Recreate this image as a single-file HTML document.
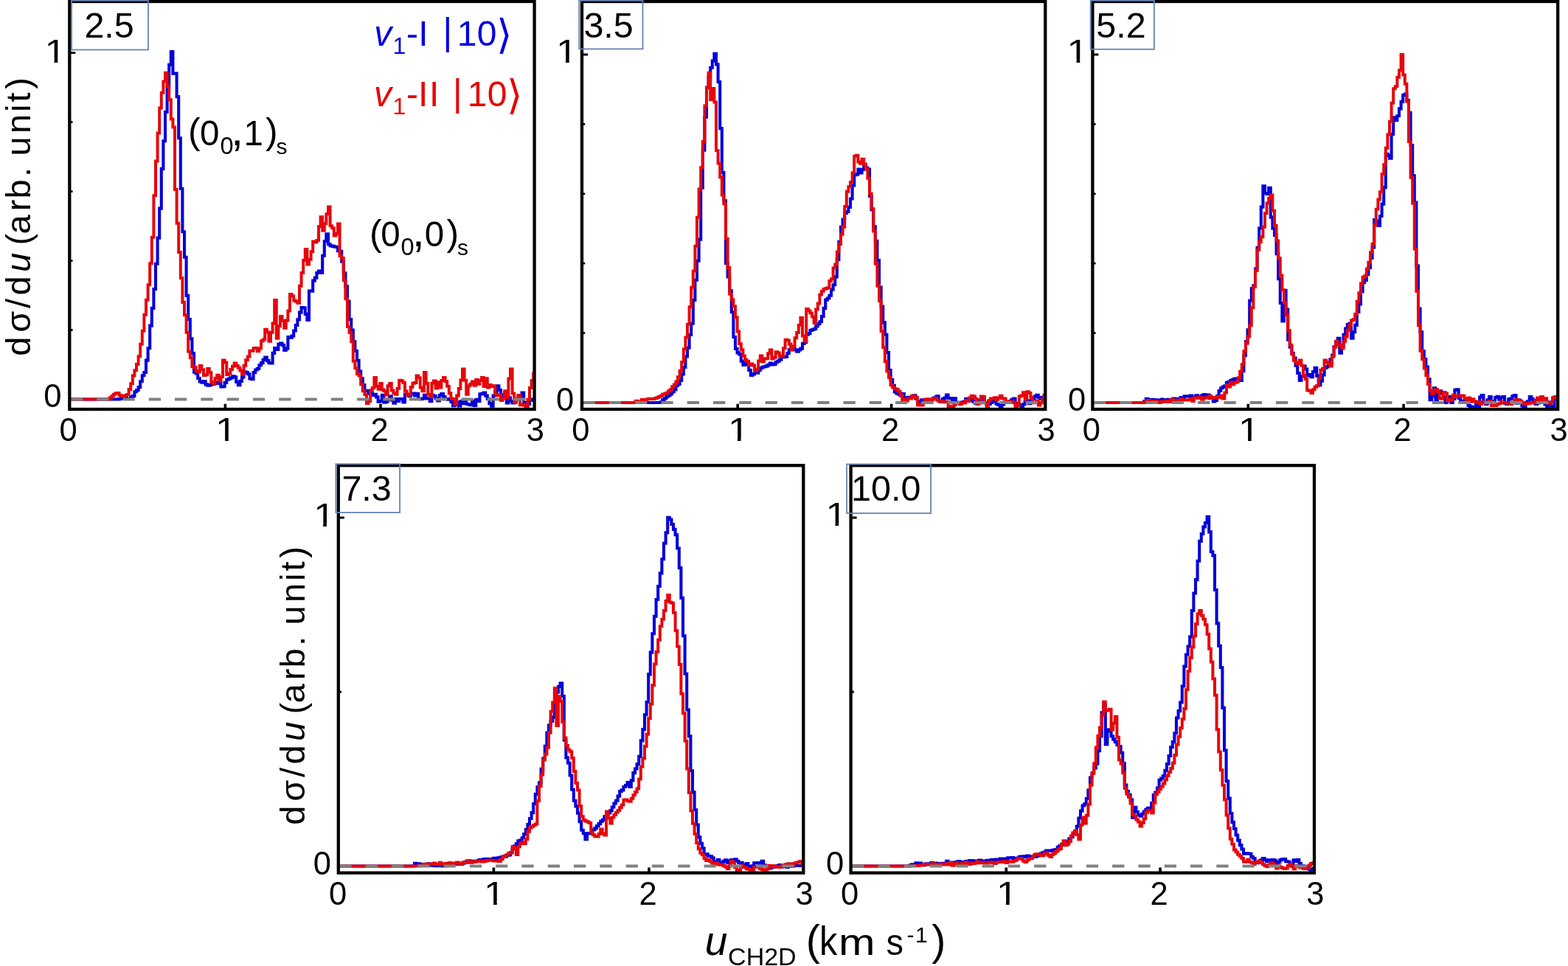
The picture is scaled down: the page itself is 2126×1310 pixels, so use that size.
<!DOCTYPE html><html><head><meta charset="utf-8"><style>html,body{margin:0;padding:0;background:#fff;overflow:hidden;}svg{display:block;}</style></head><body><svg width="2126" height="1310" viewBox="0 0 2126 1310">
<rect x="0" y="0" width="2126" height="1310" fill="#fff"/>
<defs><clipPath id="one"><rect x="-6" y="-40" width="36" height="35.5"/><rect x="10.85" y="-5" width="3.9" height="7"/></clipPath><clipPath id="c1"><rect x="94.3" y="2" width="630.3" height="553"/></clipPath><clipPath id="c2"><rect x="789" y="2" width="628.3" height="553"/></clipPath><clipPath id="c3"><rect x="1481.4" y="2" width="630.8" height="553"/></clipPath><clipPath id="c4"><rect x="458.8" y="631.2" width="630.5" height="552.5"/></clipPath><clipPath id="c5"><rect x="1153.6" y="631.2" width="628.4" height="552.5"/></clipPath></defs>
<g clip-path="url(#c1)" fill="none" stroke-linejoin="miter" stroke-miterlimit="2" stroke-linecap="butt">
<path d="M94,541.5H96.6V541.5H99.2V541.5H101.8V541.5H104.4V541.5H107V541.5H109.6V541.5H112.2V541.5H114.8V541.5H117.4V541.5H120V541.5H122.6V541.5H125.2V541.5H127.8V541.5H130.4V541.5H133V541.5H135.6V541.5H138.2V541.5H140.8V541.5H143.4V541.5H146V541.5H148.6V541.5H151.2V541.5H153.8V541.5H156.4V541.5H159V541.39H161.6V541.01H164.2V539.6H166.8V540.41H169.4V538.67H172V540.91H174.6V541.07H177.2V538.36H179.8V537.17H182.4V531.28H185V529.1H187.6V525.14H190.2V517.24H192.8V509.27H195.4V505.01H198V488.67H200.6V472.21H203.2V441.65H205.8V417.88H208.4V392.06H211V357.69H213.6V322.66H216.2V282.65H218.8V228.89H221.4V191.26H224V151.87H226.6V117.3H229.2V87.72H231.8V70H234.4V99.65H237V99.47H239.6V131.14H242.2V187.26H244.8V255.68H247.4V314.19H250V348.78H252.6V400.83H255.2V433.02H257.8V459.21H260.4V479.16H263V504.58H265.6V506.5H268.2V512.93H270.8V517.52H273.4V518.58H276V517.06H278.6V521.38H281.2V522.66H283.8V522.2H286.4V520.9H289V520.75H291.6V518.3H294.2V519.89H296.8V519.72H299.4V524.57H302V524.2H304.6V518.88H307.2V514.72H309.8V513.59H312.4V512.36H315V510.3H317.6V511.33H320.2V518.03H322.8V522.2H325.4V516.92H328V511.46H330.6V504.4H333.2V505.09H335.8V507.25H338.4V513.38H341V514.3H343.6V505.12H346.2V501.5H348.8V499.81H351.4V495.3H354V492.09H356.6V487.84H359.2V484.5H361.8V489.14H364.4V492.24H367V492.5H369.6V478.84H372.2V471.97H374.8V473.87H377.4V466.7H380V465.58H382.6V468.11H385.2V474.89H387.8V472.6H390.4V457.07H393V457.99H395.6V455.62H398.2V448.46H400.8V440.95H403.4V433.36H406V423.58H408.6V417H411.2V417.49H413.8V425.9H416.4V434H419V394.57H421.6V394.76H424.2V380.6H426.8V376.62H429.4V370.02H432V367.6H434.6V370H437.2V346.71H439.8V327.24H442.4V317.2H445V331.31H447.6V333.29H450.2V333.91H452.8V334.53H455.4V334.96H458V340.28H460.6V340.75H463.2V354.7H465.8V370.4H468.4V388.33H471V408.89H473.6V433.08H476.2V447.58H478.8V463.19H481.4V475.96H484V488.81H486.6V503.43H489.2V513.39H491.8V522H494.4V529.86H497V530.16H499.6V533.99H502.2V532.95H504.8V535.92H507.4V534.87H510V538.42H512.6V544.79H515.2V544H517.8V535.8H520.4V545.75H523V544.69H525.6V541.7H528.2V537.32H530.8V542.7H533.4V546.69H536V540.94H538.6V544H541.2V541.04H543.8V541.08H546.4V545.54H549V534.8H551.6V535.99H554.2V537.27H556.8V534.42H559.4V533.45H562V536.37H564.6V533.69H567.2V540.88H569.8V541.1H572.4V540.5H575V535.78H577.6V540.54H580.2V540.18H582.8V544.19H585.4V536.14H588V537H590.6V540.11H593.2V543.44H595.8V536.02H598.4V534.07H601V537.94H603.6V541.18H606.2V541.7H608.8V540.99H611.4V544.99H614V550.08H616.6V548.5H619.2V545.57H621.8V550.5H624.4V543.94H627V547.31H629.6V541.7H632.2V547.81H634.8V548.5H637.4V549.16H640V543.6H642.6V549.89H645.2V541.7H647.8V543.98H650.4V534.34H653V534H655.6V532.5H658.2V536.59H660.8V540.95H663.4V547.3H666V550.8H668.6V536.47H671.2V530.93H673.8V523.3H676.4V528.68H679V537.03H681.6V535.46H684.2V533.39H686.8V546.41H689.4V539.37H692V544H694.6V546.4H697.2V545.36H699.8V541.78H702.4V537.99H705V537.5H707.6V532.5H710.2V546.09H712.8V550.8H715.4V547.94H718V541.7H720.6V543.01H723.2V541.37H725.8V543.08H726" stroke="#0500d8" stroke-width="4.1"/>
<path d="M94,541.5H96.6V541.5H99.2V541.5H101.8V541.5H104.4V541.5H107V541.5H109.6V541.5H112.2V541.5H114.8V541.5H117.4V541.5H120V541.5H122.6V541.5H125.2V541.5H127.8V541.5H130.4V541.5H133V541.5H135.6V541.5H138.2V541.5H140.8V541.5H143.4V541.5H146V541.29H148.6V539.47H151.2V537.17H153.8V534.64H156.4V533.22H159V533H161.6V536.27H164.2V537H166.8V536.66H169.4V536.19H172V534.92H174.6V528.08H177.2V520.2H179.8V509.43H182.4V502.21H185V493.94H187.6V483.18H190.2V466.79H192.8V448.85H195.4V426.68H198V406.72H200.6V386.28H203.2V357.27H205.8V321.78H208.4V265.24H211V218.43H213.6V180.61H216.2V146.38H218.8V125.66H221.4V110.45H224V98.7H226.6V116.97H229.2V135.34H231.8V161.42H234.4V172.53H237V256.96H239.6V302.85H242.2V342.11H244.8V376.9H247.4V410.09H250V427.36H252.6V450.75H255.2V476.74H257.8V485.23H260.4V497.14H263V497.95H265.6V503.07H268.2V504.4H270.8V496H273.4V501.18H276V509H278.6V508.29H281.2V500H283.8V505.16H286.4V518H289V520.1H291.6V512.9H294.2V508.87H296.8V516.59H299.4V511.12H302V488.5H304.6V491.43H307.2V508H309.8V506.53H312.4V501.07H315V496.76H317.6V492.5H320.2V495.95H322.8V498.87H325.4V502.62H328V508H330.6V495.75H333.2V488.3H335.8V483.54H338.4V475.84H341V475.75H343.6V472.27H346.2V472.12H348.8V476.23H351.4V472.51H354V462.56H356.6V460.41H359.2V446.8H361.8V450.55H364.4V462.7H367V450.77H369.6V438.59H372.2V407H374.8V458.7H377.4V442.32H380V429H382.6V434.95H385.2V444.8H387.8V434.38H390.4V421.57H393V399H395.6V401.52H398.2V407.41H400.8V408.76H403.4V411H406V387.65H408.6V370.02H411.2V353.1H413.8V337.9H416.4V358.5H419V351.75H421.6V341.19H424.2V327.54H426.8V328.59H429.4V325.94H432V307.22H434.6V294.3H437.2V312.7H439.8V303.19H442.4V290.13H445V280.6H447.6V306.14H450.2V309.37H452.8V319.5H455.4V316.87H458V303.5H460.6V346.89H463.2V349.96H465.8V380.35H468.4V405.14H471V443.05H473.6V451.08H476.2V463.26H478.8V489.74H481.4V499.37H484V507.13H486.6V509.43H489.2V521.2H491.8V530.32H494.4V534.97H497V546.99H499.6V544H502.2V529.16H504.8V526.12H507.4V511.9H510V523.83H512.6V527.64H515.2V519.9H517.8V528.38H520.4V530.2H523V535.86H525.6V523.3H528.2V519.89H530.8V529.52H533.4V533.04H536V534.8H538.6V526.87H541.2V515.86H543.8V516.5H546.4V518.97H549V530.53H551.6V535.92H554.2V534.8H556.8V525.07H559.4V519.66H562V519.07H564.6V509.6H567.2V512.23H569.8V525.62H572.4V530.2H575V505H577.6V520.05H580.2V534.8H582.8V537.63H585.4V519.83H588V516.5H590.6V526.39H593.2V518.14H595.8V525.6H598.4V515.93H601V511.9H603.6V517.15H606.2V523.67H608.8V533.37H611.4V540.39H614V541.14H616.6V548.5H619.2V536.58H621.8V526.92H624.4V515.55H627V500.4H629.6V515.67H632.2V534.8H634.8V523.31H637.4V520.75H640V517.45H642.6V522.78H645.2V514.89H647.8V520.81H650.4V516.02H653V511.9H655.6V523.92H658.2V513.3H660.8V525.6H663.4V521.93H666V523.93H668.6V523.3H671.2V534.46H673.8V536.3H676.4V535.58H679V542.96H681.6V540.57H684.2V530.18H686.8V539.4H689.4V513.6H692V500.4H694.6V533.41H697.2V545.95H699.8V540.84H702.4V535.97H705V549.22H707.6V548.35H710.2V549.8H712.8V550.8H715.4V541.63H718V525.88H720.6V516.1H723.2V506.36H725.8V506.89H726" stroke="#e5060c" stroke-width="4.0"/>
<line x1="95.8" y1="541.5" x2="724.6" y2="541.5" stroke="#808080" stroke-width="4.1" stroke-dasharray="16.3 19"/>
</g>
<rect x="94.3" y="2" width="630.3" height="553" fill="none" stroke="#000" stroke-width="4.3"/>
<path d="M94.3,447.52h4.2 M94.3,353.54h4.2 M94.3,259.56h4.2 M94.3,165.58h4.2 M94.3,71.6h8" stroke="#000" stroke-width="2.8" fill="none"/>
<path d="M305.4,555v-7.2 M516,555v-7.2" stroke="#000" stroke-width="3.6" fill="none"/>
<rect x="97.1" y="0.8" width="103.9" height="66.7" fill="none" stroke="#6482b4" stroke-width="1.8"/>
<text x="114.4" y="51.2" font-family="'Liberation Sans', Arial, sans-serif" font-size="48.5" fill="#000">2.5</text>
<text x="80.6" y="598" font-family="'Liberation Sans', Arial, sans-serif" font-size="43.5">0</text>
<text transform="translate(292.1,598) scale(1.2,1)" font-family="'Liberation Sans', Arial, sans-serif" font-size="43.5" clip-path="url(#one)">1</text>
<text x="502.5" y="598" font-family="'Liberation Sans', Arial, sans-serif" font-size="43.5">2</text>
<text x="713.8" y="598" font-family="'Liberation Sans', Arial, sans-serif" font-size="43.5">3</text>
<text x="59.3" y="552.2" font-family="'Liberation Sans', Arial, sans-serif" font-size="43.5">0</text>
<text transform="translate(60.56,85) scale(1.2,1)" font-family="'Liberation Sans', Arial, sans-serif" font-size="43.5" clip-path="url(#one)">1</text>
<g clip-path="url(#c2)" fill="none" stroke-linejoin="miter" stroke-miterlimit="2" stroke-linecap="butt">
<path d="M789,546H791.6V546H794.2V546H796.8V546H799.4V546H802V546H804.6V546H807.2V546H809.8V546H812.4V546H815V546H817.6V546H820.2V546H822.8V546H825.4V546H828V546H830.6V546H833.2V546H835.8V546H838.4V546H841V546H843.6V546H846.2V546H848.8V546H851.4V546H854V546H856.6V546H859.2V546H861.8V546H864.4V546H867V546H869.6V546H872.2V546H874.8V546H877.4V546H880V546H882.6V546H885.2V546H887.8V546H890.4V546H893V546H895.6V545.32H898.2V542.24H900.8V540.13H903.4V537.77H906V536.29H908.6V534.15H911.2V531.25H913.8V528.34H916.4V522.84H919V520.93H921.6V515.92H924.2V507.47H926.8V497.93H929.4V483.5H932V471.76H934.6V454.01H937.2V438.78H939.8V407.01H942.4V379.78H945V353.78H947.6V324.62H950.2V254.64H952.8V203.77H955.4V158.68H958V118.57H960.6V104.34H963.2V91.8H965.8V82.51H968.4V72.9H971V87.42H973.6V111.12H976.2V174.13H978.8V233.83H981.4V272.4H984V356.96H986.6V375.38H989.2V394.38H991.8V423.26H994.4V457.07H997V472.83H999.6V478.41H1002.2V480.5H1004.8V489.78H1007.4V494.94H1010V489.95H1012.6V494.2H1015.2V501.96H1017.8V509.04H1020.4V507.36H1023V505.28H1025.6V505.8H1028.2V502.2H1030.8V499.23H1033.4V497.71H1036V497.21H1038.6V496.4H1041.2V494.81H1043.8V492.5H1046.4V494.42H1049V493.92H1051.6V491.22H1054.2V489.81H1056.8V487.8H1059.4V483.92H1062V484.29H1064.6V483.69H1067.2V479.05H1069.8V474.19H1072.4V470.6H1075V473.08H1077.6V474.52H1080.2V476.6H1082.8V474.37H1085.4V472.65H1088V466.02H1090.6V464.19H1093.2V453.65H1095.8V452.24H1098.4V447.99H1101V447.01H1103.6V446.02H1106.2V442.42H1108.8V439.29H1111.4V436.23H1114V428.94H1116.6V418.14H1119.2V406.6H1121.8V404.54H1124.4V400.77H1127V392.65H1129.6V386.28H1132.2V375.35H1134.8V352.1H1137.4V327.72H1140V307.82H1142.6V297.45H1145.2V289.15H1147.8V287.07H1150.4V280.97H1153V269.57H1155.6V251.55H1158.2V237.3H1160.8V236.4H1163.4V229.63H1166V234.51H1168.6V230.01H1171.2V223.7H1173.8V227.6H1176.4V229.63H1179V266.03H1181.6V284.5H1184.2V307.41H1186.8V326.88H1189.4V353.1H1192V389.5H1194.6V415.53H1197.2V437.34H1199.8V453.91H1202.4V477.96H1205V502.1H1207.6V514.97H1210.2V522.83H1212.8V531.48H1215.4V533.33H1218V534.69H1220.6V536.33H1223.2V534.06H1225.8V540.4H1228.4V539.47H1231V538.71H1233.6V538.9H1236.2V537.31H1238.8V536.34H1241.4V540.73H1244V545.43H1246.6V543.98H1249.2V542.36H1251.8V545.47H1254.4V542.91H1257V544.9H1259.6V542.52H1262.2V542.76H1264.8V539.96H1267.4V538.91H1270V537.4H1272.6V543.84H1275.2V544.9H1277.8V540.99H1280.4V539.49H1283V535.54H1285.6V540.28H1288.2V539.97H1290.8V546.25H1293.4V540.18H1296V545.87H1298.6V545.74H1301.2V546.4H1303.8V545.64H1306.4V544.79H1309V541.08H1311.6V540.72H1314.2V542.92H1316.8V541.9H1319.4V544.88H1322V546.89H1324.6V542.93H1327.2V545.8H1329.8V541.95H1332.4V543.87H1335V546.1H1337.6V549.13H1340.2V547.9H1342.8V545.92H1345.4V544.56H1348V543.4H1350.6V547.68H1353.2V548.96H1355.8V550.9H1358.4V548.37H1361V545.57H1363.6V545.51H1366.2V545.4H1368.8V543.99H1371.4V541.9H1374V540.47H1376.6V548.27H1379.2V547.05H1381.8V549.4H1384.4V551.43H1387V548.27H1389.6V545.36H1392.2V543.28H1394.8V547.12H1397.4V543.39H1400V540.91H1402.6V537.57H1405.2V535.9H1407.8V538.98H1410.4V541.06H1413V538.79H1415.6V543.61H1418.2V543.76H1419" stroke="#0500d8" stroke-width="4.1"/>
<path d="M789,546H791.6V546H794.2V546H796.8V546H799.4V546H802V546H804.6V546H807.2V546H809.8V546H812.4V546H815V546H817.6V546H820.2V546H822.8V546H825.4V546H828V546H830.6V546H833.2V546H835.8V546H838.4V546H841V546H843.6V546H846.2V546H848.8V546H851.4V546H854V546H856.6V546H859.2V545.82H861.8V543.79H864.4V544.69H867V544.78H869.6V542.05H872.2V542.15H874.8V542.2H877.4V540.97H880V540.68H882.6V540.72H885.2V541.08H887.8V540.01H890.4V539.29H893V538.06H895.6V536.85H898.2V534.69H900.8V533.99H903.4V532.63H906V530.37H908.6V528.21H911.2V524.21H913.8V521.39H916.4V517.62H919V511.26H921.6V502.88H924.2V490.96H926.8V473.51H929.4V457.48H932V439.66H934.6V416.37H937.2V389.76H939.8V367.44H942.4V333.67H945V294.63H947.6V256.41H950.2V227.21H952.8V192.01H955.4V143.43H958V118.98H960.6V98.7H963.2V135H965.8V120H968.4V138.55H971V204.29H973.6V221.52H976.2V240.32H978.8V264.38H981.4V276.55H984V323.87H986.6V363H989.2V398.64H991.8V406.14H994.4V415.51H997V430.31H999.6V449.53H1002.2V466.18H1004.8V474.17H1007.4V482.57H1010V488.04H1012.6V489.89H1015.2V495.11H1017.8V493.47H1020.4V495.51H1023V502.7H1025.6V500.4H1028.2V489.39H1030.8V482.5H1033.4V490.5H1036V486.5H1038.6V486.15H1041.2V479.2H1043.8V474.6H1046.4V486.5H1049V484.66H1051.6V477.32H1054.2V478.6H1056.8V483.19H1059.4V482.5H1062V472.13H1064.6V460.7H1067.2V461.45H1069.8V466.54H1072.4V474.6H1075V469.55H1077.6V458.33H1080.2V450.94H1082.8V441.08H1085.4V431H1088V455.6H1090.6V462.7H1093.2V419H1095.8V421.43H1098.4V424.43H1101V429.44H1103.6V438H1106.2V419.6H1108.8V411.55H1111.4V399.48H1114V395.06H1116.6V392.11H1119.2V391.32H1121.8V390.34H1124.4V380.88H1127V378.31H1129.6V363.45H1132.2V358.43H1134.8V341.52H1137.4V331.32H1140V317.87H1142.6V307.8H1145.2V280.09H1147.8V259.86H1150.4V253.22H1153V246.98H1155.6V234.2H1158.2V211.8H1160.8V210.71H1163.4V219.58H1166V221.7H1168.6V215.8H1171.2V222.52H1173.8V228.96H1176.4V241.66H1179V262.4H1181.6V283H1184.2V313.4H1186.8V357.86H1189.4V387.78H1192V408.08H1194.6V449.13H1197.2V471.16H1199.8V490.25H1202.4V503.61H1205V512.03H1207.6V522.3H1210.2V525.58H1212.8V527.27H1215.4V528.28H1218V531.04H1220.6V535.7H1223.2V543.26H1225.8V541.66H1228.4V543.4H1231V540.46H1233.6V540.55H1236.2V536.79H1238.8V538.17H1241.4V538.9H1244V549.24H1246.6V549.4H1249.2V549.19H1251.8V546.12H1254.4V541.39H1257V541.37H1259.6V541.84H1262.2V541.93H1264.8V540.84H1267.4V539.89H1270V542.45H1272.6V544.29H1275.2V544.23H1277.8V545.15H1280.4V545.06H1283V544.97H1285.6V550.9H1288.2V551.46H1290.8V552.34H1293.4V548.9H1296V546.56H1298.6V545.99H1301.2V548.24H1303.8V546.54H1306.4V546.48H1309V543.01H1311.6V544.36H1314.2V539.41H1316.8V536.67H1319.4V537.4H1322V540.82H1324.6V547.9H1327.2V546.53H1329.8V537.4H1332.4V538H1335V546.06H1337.6V550.9H1340.2V543.18H1342.8V540.4H1345.4V541H1348V539.31H1350.6V541.9H1353.2V539.43H1355.8V536.67H1358.4V540.33H1361V540.4H1363.6V546.12H1366.2V544.4H1368.8V544.86H1371.4V544.96H1374V545.93H1376.6V552.6H1379.2V549.4H1381.8V537.39H1384.4V536.59H1387V532.24H1389.6V541.17H1392.2V531.32H1394.8V532.9H1397.4V539.08H1400V546.23H1402.6V545.69H1405.2V543.38H1407.8V549.4H1410.4V546.3H1413V541.85H1415.6V535.42H1418.2V541.01H1419" stroke="#e5060c" stroke-width="4.0"/>
<line x1="790.5" y1="546" x2="1417.3" y2="546" stroke="#808080" stroke-width="4.1" stroke-dasharray="16.3 19"/>
</g>
<rect x="789" y="2" width="628.3" height="553" fill="none" stroke="#000" stroke-width="4.3"/>
<path d="M789,451.6h4.2 M789,357.2h4.2 M789,262.8h4.2 M789,168.4h4.2 M789,74h8" stroke="#000" stroke-width="2.8" fill="none"/>
<path d="M1000.2,555v-7.2 M1208.6,555v-7.2" stroke="#000" stroke-width="3.6" fill="none"/>
<rect x="785.3" y="0.8" width="86.2" height="65.6" fill="none" stroke="#6482b4" stroke-width="1.8"/>
<text x="791.4" y="50.9" font-family="'Liberation Sans', Arial, sans-serif" font-size="48.5" fill="#000">3.5</text>
<text x="775.3" y="598" font-family="'Liberation Sans', Arial, sans-serif" font-size="43.5">0</text>
<text transform="translate(986.9,598) scale(1.2,1)" font-family="'Liberation Sans', Arial, sans-serif" font-size="43.5" clip-path="url(#one)">1</text>
<text x="1195.1" y="598" font-family="'Liberation Sans', Arial, sans-serif" font-size="43.5">2</text>
<text x="1406.5" y="598" font-family="'Liberation Sans', Arial, sans-serif" font-size="43.5">3</text>
<text x="754" y="557" font-family="'Liberation Sans', Arial, sans-serif" font-size="43.5">0</text>
<text transform="translate(754.06,84.7) scale(1.2,1)" font-family="'Liberation Sans', Arial, sans-serif" font-size="43.5" clip-path="url(#one)">1</text>
<g clip-path="url(#c3)" fill="none" stroke-linejoin="miter" stroke-miterlimit="2" stroke-linecap="butt">
<path d="M1481,546H1483.6V546H1486.2V546H1488.8V546H1491.4V546H1494V546H1496.6V546H1499.2V546H1501.8V546H1504.4V546H1507V546H1509.6V546H1512.2V546H1514.8V546H1517.4V546H1520V546H1522.6V546H1525.2V546H1527.8V546H1530.4V546H1533V546H1535.6V546H1538.2V546H1540.8V546H1543.4V546H1546V546H1548.6V546H1551.2V544.38H1553.8V540.79H1556.4V542.53H1559V541.72H1561.6V541.88H1564.2V543.38H1566.8V542.27H1569.4V543.78H1572V542.71H1574.6V541.52H1577.2V542.88H1579.8V544.78H1582.4V541.71H1585V544.64H1587.6V543.39H1590.2V540.59H1592.8V543.04H1595.4V540.76H1598V543.97H1600.6V539.07H1603.2V541.06H1605.8V537.4H1608.4V537.43H1611V537.46H1613.6V536.52H1616.2V538.96H1618.8V538.34H1621.4V536.28H1624V539.37H1626.6V538.08H1629.2V536.26H1631.8V535.04H1634.4V535.6H1637V535.52H1639.6V539.85H1642.2V539.13H1644.8V544.35H1647.4V542.9H1650V537.09H1652.6V529.97H1655.2V526.24H1657.8V524.65H1660.4V523.35H1663V518.92H1665.6V517.92H1668.2V515.98H1670.8V514.92H1673.4V513.6H1676V515.86H1678.6V514.12H1681.2V516H1683.8V503.11H1686.4V482.22H1689V463.37H1691.6V447.29H1694.2V407.82H1696.8V391.21H1699.4V387.21H1702V364.54H1704.6V335.87H1707.2V309.55H1709.8V280.61H1712.4V252.2H1715V262H1717.6V263.32H1720.2V254.7H1722.8V294.61H1725.4V309.68H1728V319.11H1730.6V344.1H1733.2V378.14H1735.8V411.01H1738.4V435.4H1741V393.9H1743.6V419.57H1746.2V460.65H1748.8V470.59H1751.4V478.94H1754V485.6H1756.6V495.76H1759.2V506.03H1761.8V516H1764.4V510H1767V496.5H1769.6V500.54H1772.2V509.51H1774.8V508.1H1777.4V511.1H1780V504.06H1782.6V498.9H1785.2V509.61H1787.8V522.2H1790.4V516.8H1793V508.33H1795.6V499.06H1798.2V497.39H1800.8V492.1H1803.4V487.37H1806V481.85H1808.6V470.34H1811.2V463.17H1813.8V458.7H1816.4V478.6H1819V469.83H1821.6V453.72H1824.2V445.59H1826.8V440.09H1829.4V438.9H1832V458.7H1834.6V450.3H1837.2V440.85H1839.8V423.06H1842.4V412.38H1845V395.37H1847.6V383.23H1850.2V380.01H1852.8V372.19H1855.4V363H1858V350.06H1860.6V335.4H1863.2V298.1H1865.8V299.85H1868.4V306H1871V293.01H1873.6V276.59H1876.2V254.09H1878.8V208.8H1881.4V210.88H1884V214.8H1886.6V181.91H1889.2V159.2H1891.8V163.2H1894.4V157.27H1897V147.4H1899.6V137.88H1902.2V129H1904.8V127.5H1907.4V136.08H1910V152.83H1912.6V197.01H1915.2V238.25H1917.8V274.57H1920.4V360.46H1923V418.63H1925.6V450.33H1928.2V476.26H1930.8V487.02H1933.4V497.46H1936V514.25H1938.6V542.1H1941.2V537.31H1943.8V526.2H1946.4V542.1H1949V532.84H1951.6V530.2H1954.2V533.97H1956.8V538.34H1959.4V546H1962V538.02H1964.6V538.1H1967.2V546H1969.8V541.04H1972.4V528.74H1975V528.2H1977.6V539.99H1980.2V543.87H1982.8V544.01H1985.4V545.66H1988V545.1H1990.6V550.07H1993.2V551.51H1995.8V552H1998.4V553.01H2001V548.01H2003.6V551.43H2006.2V538.57H2008.8V536.1H2011.4V545.88H2014V548H2016.6V542.24H2019.2V538.1H2021.8V544.25H2024.4V546H2027V538.99H2029.6V537.72H2032.2V541.66H2034.8V539.18H2037.4V538.1H2040V546.86H2042.6V548H2045.2V541.38H2047.8V540.67H2050.4V537.31H2053V536.1H2055.6V546.58H2058.2V542.49H2060.8V546.3H2063.4V550.48H2066V552H2068.6V545.84H2071.2V544.24H2073.8V538.1H2076.4V541.38H2079V545.69H2081.6V548H2084.2V546.46H2086.8V545.41H2089.4V544H2092V545.72H2094.6V548.42H2097.2V552H2099.8V545.21H2102.4V550.78H2105V551.85H2107.6V540.1H2110.2V540.96H2112.8V541.95H2114" stroke="#0500d8" stroke-width="4.1"/>
<path d="M1481,546H1483.6V546H1486.2V546H1488.8V546H1491.4V546H1494V546H1496.6V546H1499.2V546H1501.8V546H1504.4V546H1507V546H1509.6V546H1512.2V546H1514.8V546H1517.4V546H1520V546H1522.6V546H1525.2V546H1527.8V546H1530.4V546H1533V546H1535.6V546H1538.2V546H1540.8V546H1543.4V546H1546V546H1548.6V546H1551.2V545.47H1553.8V544.04H1556.4V542.99H1559V544.25H1561.6V543.94H1564.2V544.24H1566.8V543.9H1569.4V545.98H1572V545.69H1574.6V544.53H1577.2V544.97H1579.8V544.57H1582.4V543.95H1585V544.65H1587.6V541.7H1590.2V543.39H1592.8V542.76H1595.4V542.65H1598V543.38H1600.6V541.14H1603.2V542.45H1605.8V542.53H1608.4V542.6H1611V542.3H1613.6V540.9H1616.2V543.98H1618.8V539.29H1621.4V539.62H1624V539.64H1626.6V539.05H1629.2V541.74H1631.8V539.7H1634.4V539.17H1637V538.45H1639.6V537.1H1642.2V539.91H1644.8V538.88H1647.4V538.9H1650V538H1652.6V539.19H1655.2V536.49H1657.8V540.4H1660.4V532.58H1663V521.96H1665.6V524.44H1668.2V518.54H1670.8V521.16H1673.4V518.81H1676V518.03H1678.6V512.31H1681.2V503.84H1683.8V494.35H1686.4V476.16H1689V465.79H1691.6V456.43H1694.2V441.13H1696.8V417.26H1699.4V389.08H1702V366.99H1704.6V338.88H1707.2V327.89H1709.8V321.13H1712.4V307.82H1715V289.16H1717.6V275.47H1720.2V268.87H1722.8V264.4H1725.4V285.69H1728V305.87H1730.6V326.59H1733.2V350.13H1735.8V373.59H1738.4V393.27H1741V410.4H1743.6V427.33H1746.2V448.24H1748.8V467.78H1751.4V480.39H1754V488.72H1756.6V491.87H1759.2V493.04H1761.8V488.6H1764.4V495.81H1767V509.06H1769.6V514.05H1772.2V529.15H1774.8V530H1777.4V533.1H1780V528.37H1782.6V524.79H1785.2V522.89H1787.8V513.3H1790.4V501.79H1793V500.12H1795.6V488.5H1798.2V491.08H1800.8V492.99H1803.4V496.4H1806V483.46H1808.6V470.4H1811.2V462.7H1813.8V467.32H1816.4V468.05H1819V472.6H1821.6V463.26H1824.2V456.55H1826.8V447.7H1829.4V440.76H1832V434.6H1834.6V433.31H1837.2V425.99H1839.8V408.84H1842.4V397.29H1845V384.48H1847.6V375.8H1850.2V374.37H1852.8V364.75H1855.4V355.85H1858V342.36H1860.6V330.8H1863.2V305.17H1865.8V283.63H1868.4V270.57H1871V260.24H1873.6V235.96H1876.2V223.17H1878.8V200.78H1881.4V182.45H1884V164.66H1886.6V139.71H1889.2V120.16H1891.8V117.34H1894.4V104.86H1897V95.26H1899.6V73.9H1902.2V101.42H1904.8V113.82H1907.4V137.73H1910V191.99H1912.6V240.71H1915.2V275.73H1917.8V337.4H1920.4V394.65H1923V441.36H1925.6V475.8H1928.2V487.31H1930.8V499.52H1933.4V509.1H1936V521.09H1938.6V529.82H1941.2V534.1H1943.8V529.15H1946.4V528.2H1949V530.97H1951.6V540.1H1954.2V540.68H1956.8V532.1H1959.4V533.33H1962V543.44H1964.6V542.1H1967.2V542.51H1969.8V535.68H1972.4V538.1H1975V537.54H1977.6V536.72H1980.2V536.44H1982.8V536.81H1985.4V540.54H1988V545.36H1990.6V539.39H1993.2V544.84H1995.8V541.23H1998.4V544.31H2001V545.01H2003.6V545.33H2006.2V547.91H2008.8V545.34H2011.4V546.43H2014V545.41H2016.6V545.94H2019.2V544.3H2021.8V549.94H2024.4V547.54H2027V550H2029.6V547.95H2032.2V547.22H2034.8V545.01H2037.4V546H2040V546.09H2042.6V546.82H2045.2V546.7H2047.8V548H2050.4V545.76H2053V542.52H2055.6V542.1H2058.2V544.79H2060.8V543.71H2063.4V546.15H2066V548H2068.6V547.53H2071.2V547.31H2073.8V546.53H2076.4V546H2079V546.42H2081.6V542.69H2084.2V539.42H2086.8V542.79H2089.4V538.1H2092V545.92H2094.6V540.15H2097.2V546H2099.8V547.02H2102.4V545.7H2105V539.16H2107.6V538.1H2110.2V540.63H2112.8V535.1H2114" stroke="#e5060c" stroke-width="4.0"/>
<line x1="1482.9" y1="546" x2="2112.2" y2="546" stroke="#808080" stroke-width="4.1" stroke-dasharray="16.3 19"/>
</g>
<rect x="1481.4" y="2" width="630.8" height="553" fill="none" stroke="#000" stroke-width="4.3"/>
<path d="M1481.4,451.6h4.2 M1481.4,357.2h4.2 M1481.4,262.8h4.2 M1481.4,168.4h4.2 M1481.4,74h8" stroke="#000" stroke-width="2.8" fill="none"/>
<path d="M1692.3,555v-7.2 M1903.1,555v-7.2" stroke="#000" stroke-width="3.6" fill="none"/>
<rect x="1478.7" y="0.8" width="86.2" height="66" fill="none" stroke="#6482b4" stroke-width="1.8"/>
<text x="1486.2" y="50.9" font-family="'Liberation Sans', Arial, sans-serif" font-size="48.5" fill="#000">5.2</text>
<text x="1467.7" y="598" font-family="'Liberation Sans', Arial, sans-serif" font-size="43.5">0</text>
<text transform="translate(1679,598) scale(1.2,1)" font-family="'Liberation Sans', Arial, sans-serif" font-size="43.5" clip-path="url(#one)">1</text>
<text x="1889.6" y="598" font-family="'Liberation Sans', Arial, sans-serif" font-size="43.5">2</text>
<text x="2101.4" y="598" font-family="'Liberation Sans', Arial, sans-serif" font-size="43.5">3</text>
<text x="1447.9" y="557.3" font-family="'Liberation Sans', Arial, sans-serif" font-size="43.5">0</text>
<text transform="translate(1446.56,84.7) scale(1.2,1)" font-family="'Liberation Sans', Arial, sans-serif" font-size="43.5" clip-path="url(#one)">1</text>
<g clip-path="url(#c4)" fill="none" stroke-linejoin="miter" stroke-miterlimit="2" stroke-linecap="butt">
<path d="M458,1174.5H460.6V1174.5H463.2V1174.5H465.8V1174.5H468.4V1174.5H471V1174.5H473.6V1174.5H476.2V1174.5H478.8V1174.5H481.4V1174.5H484V1174.5H486.6V1174.5H489.2V1174.5H491.8V1174.5H494.4V1174.5H497V1174.5H499.6V1174.5H502.2V1174.5H504.8V1174.5H507.4V1174.5H510V1174.5H512.6V1174.5H515.2V1174.5H517.8V1174.5H520.4V1174.5H523V1174.5H525.6V1174.5H528.2V1174.5H530.8V1174.5H533.4V1174.5H536V1174.5H538.6V1174.5H541.2V1174.5H543.8V1174.5H546.4V1174.5H549V1174.5H551.6V1174.5H554.2V1174.5H556.8V1174.5H559.4V1174.23H562V1170.91H564.6V1173.41H567.2V1171.2H569.8V1172.52H572.4V1172.2H575V1172.17H577.6V1173.16H580.2V1171.36H582.8V1173.64H585.4V1173.23H588V1174.07H590.6V1174.15H593.2V1173.52H595.8V1174.02H598.4V1174.28H601V1174.5H603.6V1174H606.2V1173.13H608.8V1172.53H611.4V1172.75H614V1171.75H616.6V1171.38H619.2V1171.96H621.8V1171.5H624.4V1171.88H627V1170.67H629.6V1169.17H632.2V1167.86H634.8V1168.6H637.4V1169.39H640V1167.77H642.6V1168.17H645.2V1167.93H647.8V1166.75H650.4V1165.72H653V1166.2H655.6V1165.17H658.2V1164.75H660.8V1165.09H663.4V1165.37H666V1165.59H668.6V1163.92H671.2V1164.97H673.8V1163.43H676.4V1162.96H679V1162.39H681.6V1161.57H684.2V1161.62H686.8V1159.94H689.4V1159.33H692V1156.4H694.6V1151.26H697.2V1147.39H699.8V1144.04H702.4V1140.34H705V1139.43H707.6V1136.18H710.2V1131.17H712.8V1124.86H715.4V1118.17H718V1109.93H720.6V1102.08H723.2V1090.07H725.8V1077.06H728.4V1067.19H731V1061.36H733.6V1042.89H736.2V1028.67H738.8V1011.83H741.4V993.44H744V983.43H746.6V978.05H749.2V972.66H751.8V955.75H754.4V938.69H757V931.14H759.6V926.6H762.2V944.07H764.8V1003.82H767.4V1027.43H770V1034.82H772.6V1051.43H775.2V1070.69H777.8V1085.73H780.4V1093.37H783V1102.81H785.6V1114.25H788.2V1125.7H790.8V1130.23H793.4V1138.3H796V1130.02H798.6V1130.11H801.2V1129.78H803.8V1125.29H806.4V1123.1H809V1120.08H811.6V1117.14H814.2V1113.9H816.8V1111.7H819.4V1107.36H822V1105.05H824.6V1102.33H827.2V1099.38H829.8V1094.49H832.4V1089.52H835V1085.8H837.6V1079.61H840.2V1073.04H842.8V1071.33H845.4V1066.94H848V1065.07H850.6V1061H853.2V1066.9H855.8V1058.37H858.4V1048.12H861V1042.52H863.6V1036.21H866.2V1025.87H868.8V1004.34H871.4V989.15H874V969.19H876.6V952.06H879.2V914.33H881.8V884.65H884.4V859.19H887V835.71H889.6V812.93H892.2V795.04H894.8V777.33H897.4V758.18H900V736.68H902.6V722.4H905.2V701.9H907.8V704.43H910.4V711H913V717.89H915.6V725.24H918.2V743.56H920.8V770.16H923.4V810.9H926V862.19H928.6V913.75H931.2V962.43H933.8V998.36H936.4V1045.26H939V1074.37H941.6V1098.32H944.2V1118.49H946.8V1135.4H949.4V1143.82H952V1150.24H954.6V1159.21H957.2V1158.4H959.8V1161.1H962.4V1161.24H965V1163.28H967.6V1170.25H970.2V1168.66H972.8V1165.87H975.4V1169.88H978V1170.1H980.6V1167.83H983.2V1166.26H985.8V1170.06H988.4V1167.62H991V1166.12H993.6V1166.1H996.2V1165.28H998.8V1167.68H1001.4V1169.97H1004V1169.72H1006.6V1172.55H1009.2V1172.98H1011.8V1171H1014.4V1174.91H1017V1176H1019.6V1174.23H1022.2V1170.37H1024.8V1170.35H1027.4V1170.1H1030V1170.74H1032.6V1167.89H1035.2V1173.4H1037.8V1174.26H1040.4V1174.79H1043V1177.47H1045.6V1176H1048.2V1175.58H1050.8V1174.71H1053.4V1173.95H1056V1173.1H1058.6V1175.81H1061.2V1174.54H1063.8V1175.09H1066.4V1176H1069V1172.16H1071.6V1174.92H1074.2V1174.4H1076.8V1174H1079.4V1174H1082V1174H1084.6V1174H1087.2V1174H1089.8V1174H1091" stroke="#0500d8" stroke-width="4.1"/>
<path d="M458,1174.5H460.6V1174.5H463.2V1174.5H465.8V1174.5H468.4V1174.5H471V1174.5H473.6V1174.5H476.2V1174.5H478.8V1174.5H481.4V1174.5H484V1174.5H486.6V1174.5H489.2V1174.5H491.8V1174.5H494.4V1174.5H497V1174.5H499.6V1174.5H502.2V1174.5H504.8V1174.5H507.4V1174.5H510V1174.5H512.6V1174.5H515.2V1174.5H517.8V1174.5H520.4V1174.5H523V1174.5H525.6V1174.5H528.2V1174.5H530.8V1174.5H533.4V1174.5H536V1174.5H538.6V1174.5H541.2V1174.5H543.8V1174.5H546.4V1174.5H549V1174.5H551.6V1174.5H554.2V1174.5H556.8V1174.5H559.4V1174.5H562V1174.5H564.6V1174.5H567.2V1174.17H569.8V1174.1H572.4V1172.48H575V1171.7H577.6V1171.47H580.2V1171.68H582.8V1172.3H585.4V1171.38H588V1170.5H590.6V1171.91H593.2V1172.22H595.8V1169.77H598.4V1172.28H601V1171.71H603.6V1170.7H606.2V1172.22H608.8V1169.94H611.4V1172.47H614V1170.65H616.6V1170.58H619.2V1169.44H621.8V1170.91H624.4V1171.7H627V1169.39H629.6V1168.92H632.2V1169.77H634.8V1167.09H637.4V1169.39H640V1169.23H642.6V1168.68H645.2V1167.67H647.8V1168.25H650.4V1167.4H653V1168.53H655.6V1167.9H658.2V1167.44H660.8V1166.5H663.4V1166.82H666V1166.8H668.6V1167.53H671.2V1167.58H673.8V1167.73H676.4V1167.9H679V1165.19H681.6V1161.89H684.2V1160.48H686.8V1158.96H689.4V1156.71H692V1156.37H694.6V1148H697.2V1150.19H699.8V1159H702.4V1148.2H705V1143.99H707.6V1142.35H710.2V1144.03H712.8V1138.12H715.4V1127.85H718V1122.38H720.6V1120.69H723.2V1119.12H725.8V1117.42H728.4V1085.96H731V1066.31H733.6V1050.51H736.2V1030.46H738.8V1022.78H741.4V1013.73H744V993.64H746.6V964.65H749.2V952.48H751.8V933.2H754.4V984.1H757V944.3H759.6V950.91H762.2V979.04H764.8V1000.5H767.4V1011.11H770V1016.72H772.6V1019.27H775.2V1027.99H777.8V1046.05H780.4V1062.09H783V1071.62H785.6V1092.95H788.2V1107.35H790.8V1111.95H793.4V1113.51H796V1114.6H798.6V1115.95H801.2V1128.43H803.8V1132.3H806.4V1134.24H809V1134.4H811.6V1130.72H814.2V1124.4H816.8V1130.38H819.4V1132.4H822V1100.6H824.6V1109.54H827.2V1116.5H829.8V1108.46H832.4V1105.01H835V1101.72H837.6V1099.1H840.2V1094.9H842.8V1091.53H845.4V1084.8H848V1084.59H850.6V1086.23H853.2V1086.7H855.8V1082.76H858.4V1078.13H861V1073.98H863.6V1069.45H866.2V1056.44H868.8V1039.73H871.4V1028.44H874V1012.04H876.6V995.82H879.2V974.2H881.8V954.84H884.4V929.36H887V900.42H889.6V883.93H892.2V867.63H894.8V849.28H897.4V839.71H900V828.04H902.6V815.07H905.2V807.1H907.8V816.64H910.4V817.65H913V830.76H915.6V855.31H918.2V876.64H920.8V900.94H923.4V940.64H926V967.25H928.6V1004.68H931.2V1042.57H933.8V1074.91H936.4V1099.5H939V1116.76H941.6V1130.98H944.2V1142.92H946.8V1151.3H949.4V1156.72H952V1159.37H954.6V1164.31H957.2V1166.97H959.8V1165.96H962.4V1168.37H965V1170.48H967.6V1172.07H970.2V1170.24H972.8V1172.2H975.4V1172.74H978V1172.73H980.6V1174.25H983.2V1175.42H985.8V1178H988.4V1174.19H991V1168.1H993.6V1169.79H996.2V1176.16H998.8V1180H1001.4V1180.38H1004V1173.61H1006.6V1176H1009.2V1176.15H1011.8V1178.28H1014.4V1178.74H1017V1180H1019.6V1180.36H1022.2V1175.79H1024.8V1175.18H1027.4V1176H1030V1178.08H1032.6V1178.93H1035.2V1180H1037.8V1179.58H1040.4V1173.8H1043V1176H1045.6V1174H1048.2V1174.36H1050.8V1174.89H1053.4V1175.82H1056V1176H1058.6V1174.35H1061.2V1174.56H1063.8V1172.57H1066.4V1171.72H1069V1171.29H1071.6V1171.41H1074.2V1172.89H1076.8V1170.49H1079.4V1169.64H1082V1169.02H1084.6V1168.1H1087.2V1171.13H1089.8V1170.59H1091" stroke="#e5060c" stroke-width="4.0"/>
<line x1="460.3" y1="1174.5" x2="1089.3" y2="1174.5" stroke="#808080" stroke-width="4.1" stroke-dasharray="16.3 19"/>
</g>
<rect x="458.8" y="631.2" width="630.5" height="552.5" fill="none" stroke="#000" stroke-width="4.3"/>
<path d="M458.8,938.25h4.2 M458.8,702h8" stroke="#000" stroke-width="2.8" fill="none"/>
<path d="M669.4,1183.7v-7.2 M880,1183.7v-7.2" stroke="#000" stroke-width="3.6" fill="none"/>
<rect x="455.4" y="629.2" width="86.7" height="65.9" fill="none" stroke="#6482b4" stroke-width="1.8"/>
<text x="463.4" y="679.4" font-family="'Liberation Sans', Arial, sans-serif" font-size="48.5" fill="#000">7.3</text>
<text x="446" y="1226.7" font-family="'Liberation Sans', Arial, sans-serif" font-size="43.5">0</text>
<text transform="translate(656.1,1226.7) scale(1.2,1)" font-family="'Liberation Sans', Arial, sans-serif" font-size="43.5" clip-path="url(#one)">1</text>
<text x="866.5" y="1226.7" font-family="'Liberation Sans', Arial, sans-serif" font-size="43.5">2</text>
<text x="1078.5" y="1226.7" font-family="'Liberation Sans', Arial, sans-serif" font-size="43.5">3</text>
<text x="424.8" y="1185.6" font-family="'Liberation Sans', Arial, sans-serif" font-size="43.5">0</text>
<text transform="translate(425.16,713.5) scale(1.2,1)" font-family="'Liberation Sans', Arial, sans-serif" font-size="43.5" clip-path="url(#one)">1</text>
<g clip-path="url(#c5)" fill="none" stroke-linejoin="miter" stroke-miterlimit="2" stroke-linecap="butt">
<path d="M1153,1174.5H1155.6V1174.5H1158.2V1174.5H1160.8V1174.5H1163.4V1174.5H1166V1174.5H1168.6V1174.5H1171.2V1174.5H1173.8V1174.5H1176.4V1174.5H1179V1174.5H1181.6V1174.5H1184.2V1174.5H1186.8V1174.5H1189.4V1174.5H1192V1174.5H1194.6V1174.5H1197.2V1174.5H1199.8V1174.5H1202.4V1174.5H1205V1174.5H1207.6V1174.5H1210.2V1174.5H1212.8V1174.5H1215.4V1174.5H1218V1174.5H1220.6V1174.5H1223.2V1174.5H1225.8V1174.5H1228.4V1174.5H1231V1174.5H1233.6V1173.38H1236.2V1172.38H1238.8V1173.03H1241.4V1170.41H1244V1170.45H1246.6V1170.55H1249.2V1172.41H1251.8V1173.13H1254.4V1171.22H1257V1172.08H1259.6V1171.26H1262.2V1170.14H1264.8V1170.99H1267.4V1170.44H1270V1172.22H1272.6V1171.07H1275.2V1171.57H1277.8V1170.79H1280.4V1171.72H1283V1167.76H1285.6V1170.81H1288.2V1169.91H1290.8V1169.46H1293.4V1171.01H1296V1168.94H1298.6V1168.13H1301.2V1168.85H1303.8V1169.48H1306.4V1169.38H1309V1168.16H1311.6V1167.76H1314.2V1167.14H1316.8V1167.04H1319.4V1167.89H1322V1167.43H1324.6V1168.08H1327.2V1166.47H1329.8V1168.2H1332.4V1167.43H1335V1167.86H1337.6V1166.69H1340.2V1166.73H1342.8V1166.3H1345.4V1165.85H1348V1165.95H1350.6V1165.59H1353.2V1165.62H1355.8V1164.47H1358.4V1164.83H1361V1164.61H1363.6V1165.26H1366.2V1163.2H1368.8V1163.37H1371.4V1162.98H1374V1164.29H1376.6V1164.12H1379.2V1163.43H1381.8V1161.78H1384.4V1161.61H1387V1161.22H1389.6V1162.1H1392.2V1160.48H1394.8V1161.61H1397.4V1162.21H1400V1160.97H1402.6V1161.98H1405.2V1160.66H1407.8V1159.4H1410.4V1157.43H1413V1156.57H1415.6V1155.64H1418.2V1153.48H1420.8V1153.68H1423.4V1153.84H1426V1153.03H1428.6V1152.44H1431.2V1152.17H1433.8V1148.79H1436.4V1147.02H1439V1144.85H1441.6V1145.62H1444.2V1143.04H1446.8V1140.81H1449.4V1137.21H1452V1135.06H1454.6V1130.78H1457.2V1127.28H1459.8V1120.57H1462.4V1109.55H1465V1099.64H1467.6V1092.55H1470.2V1090.36H1472.8V1083.06H1475.4V1071.64H1478V1054.51H1480.6V1048.23H1483.2V1041.67H1485.8V1035.63H1488.4V1018.16H1491V998.54H1493.6V966.35H1496.2V955.8H1498.8V1009.4H1501.4V989.5H1504V991.77H1506.6V998.45H1509.2V1002.61H1511.8V1006.1H1514.4V1010.27H1517V1012.29H1519.6V1020.77H1522.2V1035.21H1524.8V1064.49H1527.4V1073H1530V1077.7H1532.6V1084.57H1535.2V1108.6H1537.8V1094.7H1540.4V1100.99H1543V1105.31H1545.6V1106.6H1548.2V1103.79H1550.8V1100.54H1553.4V1097.71H1556V1095.88H1558.6V1096.7H1561.2V1088.99H1563.8V1078.07H1566.4V1074.65H1569V1068.66H1571.6V1057.76H1574.2V1055.47H1576.8V1052.18H1579.4V1044.83H1582V1036.05H1584.6V1025.02H1587.2V1013.25H1589.8V1006.13H1592.4V994.25H1595V973.53H1597.6V964.15H1600.2V952.53H1602.8V930.57H1605.4V903.67H1608V887.81H1610.6V876.43H1613.2V863.66H1615.8V827.95H1618.4V804.49H1621V786.1H1623.6V760.79H1626.2V733.89H1628.8V724.04H1631.4V714.53H1634V708.98H1636.6V700.9H1639.2V721.41H1641.8V748.32H1644.4V753.4H1647V800.01H1649.6V845.41H1652.2V875.87H1654.8V905.3H1657.4V959.85H1660V1017.55H1662.6V1059.35H1665.2V1082.67H1667.8V1103.02H1670.4V1114.87H1673V1123.7H1675.6V1132.56H1678.2V1139.67H1680.8V1146.17H1683.4V1151.48H1686V1157.76H1688.6V1157.23H1691.2V1157.44H1693.8V1157.75H1696.4V1161.92H1699V1164.01H1701.6V1170.05H1704.2V1170.1H1706.8V1167.49H1709.4V1166.33H1712V1164.1H1714.6V1166.16H1717.2V1168.1H1719.8V1166.34H1722.4V1167.25H1725V1166.1H1727.6V1166.87H1730.2V1170.1H1732.8V1169.12H1735.4V1166.1H1738V1165.39H1740.6V1165.07H1743.2V1168.26H1745.8V1168.45H1748.4V1171.24H1751V1172.1H1753.6V1166.33H1756.2V1167.93H1758.8V1166.1H1761.4V1171.14H1764V1174.01H1766.6V1174.6H1769.2V1175.7H1771.8V1175.98H1774.4V1178.68H1777V1180H1779.6V1177.9H1782.2V1178.78H1784" stroke="#0500d8" stroke-width="4.1"/>
<path d="M1153,1174.5H1155.6V1174.5H1158.2V1174.5H1160.8V1174.5H1163.4V1174.5H1166V1174.5H1168.6V1174.5H1171.2V1174.5H1173.8V1174.5H1176.4V1174.5H1179V1174.5H1181.6V1174.5H1184.2V1174.5H1186.8V1174.5H1189.4V1174.5H1192V1174.5H1194.6V1174.5H1197.2V1174.5H1199.8V1174.5H1202.4V1174.5H1205V1174.5H1207.6V1174.5H1210.2V1174.5H1212.8V1174.5H1215.4V1174.5H1218V1174.5H1220.6V1174.5H1223.2V1174.5H1225.8V1174.5H1228.4V1174.45H1231V1174.36H1233.6V1174.27H1236.2V1174.17H1238.8V1174.08H1241.4V1173.96H1244V1174.05H1246.6V1173.34H1249.2V1173.33H1251.8V1172.04H1254.4V1172.06H1257V1172.47H1259.6V1172.21H1262.2V1171.88H1264.8V1171H1267.4V1172.7H1270V1172.18H1272.6V1173.22H1275.2V1171.75H1277.8V1172.58H1280.4V1172.58H1283V1170.73H1285.6V1172.42H1288.2V1170H1290.8V1173.68H1293.4V1172.14H1296V1170.31H1298.6V1172.34H1301.2V1172.72H1303.8V1170.76H1306.4V1171.96H1309V1169.46H1311.6V1171.64H1314.2V1171.96H1316.8V1170.54H1319.4V1170.92H1322V1170.59H1324.6V1168.57H1327.2V1170.28H1329.8V1169.6H1332.4V1170.03H1335V1170.44H1337.6V1170.46H1340.2V1169.38H1342.8V1169.35H1345.4V1169.93H1348V1170.98H1350.6V1169.46H1353.2V1168.94H1355.8V1168.67H1358.4V1169.03H1361V1167.9H1363.6V1170.05H1366.2V1168.27H1368.8V1168.31H1371.4V1168.87H1374V1167.46H1376.6V1166.49H1379.2V1164.15H1381.8V1164.1H1384.4V1164.82H1387V1167.79H1389.6V1169.1H1392.2V1166.44H1394.8V1164.62H1397.4V1164.21H1400V1160.84H1402.6V1158.86H1405.2V1158.2H1407.8V1158.46H1410.4V1160.51H1413V1160.2H1415.6V1157.93H1418.2V1156.2H1420.8V1159.95H1423.4V1162.1H1426V1158.71H1428.6V1157.17H1431.2V1154.83H1433.8V1152.43H1436.4V1151.04H1439V1145.68H1441.6V1140.3H1444.2V1146.3H1446.8V1144.68H1449.4V1141.09H1452V1133.56H1454.6V1129.15H1457.2V1126.4H1459.8V1131.98H1462.4V1138.3H1465V1118.84H1467.6V1108.6H1470.2V1116.5H1472.8V1105.68H1475.4V1090.78H1478V1064.68H1480.6V1048.71H1483.2V1035.37H1485.8V1013.45H1488.4V997.98H1491V986.78H1493.6V969.56H1496.2V951.8H1498.8V963.7H1501.4V963.01H1504V961.7H1506.6V989.5H1509.2V980.71H1511.8V971.7H1514.4V999.79H1517V1030.38H1519.6V1035.68H1522.2V1048.13H1524.8V1068.99H1527.4V1076.83H1530V1080.66H1532.6V1089.41H1535.2V1104.81H1537.8V1106.39H1540.4V1111.51H1543V1114.38H1545.6V1120.5H1548.2V1115.86H1550.8V1110.13H1553.4V1101.68H1556V1099.29H1558.6V1098.7H1561.2V1102.6H1563.8V1088.88H1566.4V1077.34H1569V1073.69H1571.6V1070.31H1574.2V1066.38H1576.8V1062.57H1579.4V1057.38H1582V1052H1584.6V1046.91H1587.2V1041.94H1589.8V1034.86H1592.4V1023.88H1595V1009.68H1597.6V999.07H1600.2V987.15H1602.8V975.35H1605.4V961.07H1608V935.14H1610.6V910.28H1613.2V891.92H1615.8V877.49H1618.4V862.62H1621V846.17H1623.6V832.48H1626.2V827.9H1628.8V834.83H1631.4V839.84H1634V847.22H1636.6V860.06H1639.2V879.81H1641.8V897.67H1644.4V920.56H1647V942.86H1649.6V989.35H1652.2V1019.61H1654.8V1044.2H1657.4V1064.68H1660V1084.38H1662.6V1105.56H1665.2V1123.27H1667.8V1137.72H1670.4V1144.72H1673V1152.5H1675.6V1155.52H1678.2V1158.68H1680.8V1161.14H1683.4V1163.96H1686V1168.48H1688.6V1168.81H1691.2V1165.86H1693.8V1168.8H1696.4V1169.64H1699V1172.1H1701.6V1169.58H1704.2V1168.84H1706.8V1168.1H1709.4V1169.66H1712V1172.36H1714.6V1174H1717.2V1175.19H1719.8V1173.07H1722.4V1170.1H1725V1171.11H1727.6V1173.66H1730.2V1177.51H1732.8V1174.15H1735.4V1175.95H1738V1177H1740.6V1178H1743.2V1177.38H1745.8V1174.02H1748.4V1172.1H1751V1175.11H1753.6V1178.14H1756.2V1173.98H1758.8V1175.01H1761.4V1176.19H1764V1176.57H1766.6V1178H1769.2V1176.78H1771.8V1177.77H1774.4V1173.54H1777V1171.08H1779.6V1170.35H1782.2V1168.85H1784" stroke="#e5060c" stroke-width="4.0"/>
<line x1="1155.1" y1="1174.5" x2="1782" y2="1174.5" stroke="#808080" stroke-width="4.1" stroke-dasharray="16.3 19"/>
</g>
<rect x="1153.6" y="631.2" width="628.4" height="552.5" fill="none" stroke="#000" stroke-width="4.3"/>
<path d="M1153.6,938.25h4.2 M1153.6,702h8" stroke="#000" stroke-width="2.8" fill="none"/>
<path d="M1364.3,1183.7v-7.2 M1573.1,1183.7v-7.2" stroke="#000" stroke-width="3.6" fill="none"/>
<rect x="1148.1" y="629.5" width="114" height="66.5" fill="none" stroke="#6482b4" stroke-width="1.8"/>
<text x="1154.1" y="679" font-family="'Liberation Sans', Arial, sans-serif" font-size="48.5" fill="#000">10.0</text>
<text x="1139.9" y="1226.7" font-family="'Liberation Sans', Arial, sans-serif" font-size="43.5">0</text>
<text transform="translate(1351,1226.7) scale(1.2,1)" font-family="'Liberation Sans', Arial, sans-serif" font-size="43.5" clip-path="url(#one)">1</text>
<text x="1559.6" y="1226.7" font-family="'Liberation Sans', Arial, sans-serif" font-size="43.5">2</text>
<text x="1771.2" y="1226.7" font-family="'Liberation Sans', Arial, sans-serif" font-size="43.5">3</text>
<text x="1120.1" y="1185.8" font-family="'Liberation Sans', Arial, sans-serif" font-size="43.5">0</text>
<text transform="translate(1119.46,713.3) scale(1.2,1)" font-family="'Liberation Sans', Arial, sans-serif" font-size="43.5" clip-path="url(#one)">1</text>
<text transform="translate(41.2,0) rotate(-90)" font-family="'Liberation Sans', Arial, sans-serif" font-size="47" fill="#000"><tspan x="-482.8" y="0">d</tspan><tspan x="-450.8" y="0">σ</tspan><tspan x="-417.9" y="0">/</tspan><tspan x="-400.4" y="0">d</tspan><tspan x="-369" y="0" font-style="italic">u</tspan><tspan x="-332.5" y="0">(</tspan><tspan x="-317.5" y="0">a</tspan><tspan x="-286.2" y="0">r</tspan><tspan x="-269.4" y="0">b</tspan><tspan x="-239.9" y="0">.</tspan><tspan x="-211.4" y="0">u</tspan><tspan x="-180.9" y="0">n</tspan><tspan x="-151.9" y="0">i</tspan><tspan x="-138.4" y="0">t</tspan><tspan x="-120.75" y="0">)</tspan></text>
<text transform="translate(412.7,0) rotate(-90)" font-family="'Liberation Sans', Arial, sans-serif" font-size="47" fill="#000"><tspan x="-1118.8" y="0">d</tspan><tspan x="-1086.8" y="0">σ</tspan><tspan x="-1053.9" y="0">/</tspan><tspan x="-1036.4" y="0">d</tspan><tspan x="-1005" y="0" font-style="italic">u</tspan><tspan x="-968.5" y="0">(</tspan><tspan x="-953.5" y="0">a</tspan><tspan x="-922.2" y="0">r</tspan><tspan x="-905.4" y="0">b</tspan><tspan x="-875.9" y="0">.</tspan><tspan x="-847.4" y="0">u</tspan><tspan x="-816.9" y="0">n</tspan><tspan x="-787.9" y="0">i</tspan><tspan x="-774.4" y="0">t</tspan><tspan x="-756.75" y="0">)</tspan></text>
<g fill="#000">
<text x="255.1" y="195.2" font-family="'Liberation Sans', Arial, sans-serif" font-size="50">(</text>
<text x="271.1" y="197" font-family="'Liberation Sans', Arial, sans-serif" font-size="47.5">0</text>
<text x="298.4" y="208.7" font-family="'Liberation Sans', Arial, sans-serif" font-size="32.5">0</text>
<text x="313.1" y="197" font-family="'Liberation Sans', Arial, sans-serif" font-size="62">,</text>
<text x="330.4" y="197.4" font-family="'Liberation Sans', Arial, sans-serif" font-size="47.5">1</text>
<text x="360.1" y="195.2" font-family="'Liberation Sans', Arial, sans-serif" font-size="50">)</text>
<text x="374.4" y="208.7" font-family="'Liberation Sans', Arial, sans-serif" font-size="30">s</text>
<text x="500.9" y="333" font-family="'Liberation Sans', Arial, sans-serif" font-size="50">(</text>
<text x="516.2" y="334.4" font-family="'Liberation Sans', Arial, sans-serif" font-size="47.5">0</text>
<text x="543.6" y="346.4" font-family="'Liberation Sans', Arial, sans-serif" font-size="32.5">0</text>
<text x="558.8" y="334.4" font-family="'Liberation Sans', Arial, sans-serif" font-size="62">,</text>
<text x="575.7" y="334.4" font-family="'Liberation Sans', Arial, sans-serif" font-size="47.5">0</text>
<text x="605.6" y="333" font-family="'Liberation Sans', Arial, sans-serif" font-size="50">)</text>
<text x="619.9" y="346.4" font-family="'Liberation Sans', Arial, sans-serif" font-size="30">s</text>
</g>
<g fill="#0000e0">
<text x="507.2" y="61.9" font-family="'Liberation Sans', Arial, sans-serif" font-size="48" font-style="italic">v</text>
<text x="532.6" y="72.9" font-family="'Liberation Sans', Arial, sans-serif" font-size="32">1</text>
<text x="550.9" y="61.9" font-family="'Liberation Sans', Arial, sans-serif" font-size="48">-</text>
<text x="567.2" y="61.9" font-family="'Liberation Sans', Arial, sans-serif" font-size="48">I</text>
<text x="598.8" y="60.3" font-family="'DejaVu Sans', sans-serif" font-size="48">|</text>
<text x="619.7" y="61.9" font-family="'Liberation Sans', Arial, sans-serif" font-size="48">1</text>
<text x="646.8" y="61.9" font-family="'Liberation Sans', Arial, sans-serif" font-size="48">0</text>
<text x="672.9" y="65.6" font-family="'DejaVu Sans', sans-serif" font-size="55">⟩</text>
</g>
<g fill="#e80000">
<text x="507" y="144.4" font-family="'Liberation Sans', Arial, sans-serif" font-size="48" font-style="italic">v</text>
<text x="532.6" y="155.4" font-family="'Liberation Sans', Arial, sans-serif" font-size="32">1</text>
<text x="550.9" y="144.4" font-family="'Liberation Sans', Arial, sans-serif" font-size="48">-</text>
<text x="567" y="144.4" font-family="'Liberation Sans', Arial, sans-serif" font-size="48">I</text>
<text x="581.9" y="144.4" font-family="'Liberation Sans', Arial, sans-serif" font-size="48">I</text>
<text x="612.3" y="142.5" font-family="'DejaVu Sans', sans-serif" font-size="48">|</text>
<text x="633.8" y="144.4" font-family="'Liberation Sans', Arial, sans-serif" font-size="48">1</text>
<text x="660.8" y="144.4" font-family="'Liberation Sans', Arial, sans-serif" font-size="48">0</text>
<text x="686.9" y="148.1" font-family="'DejaVu Sans', sans-serif" font-size="55">⟩</text>
</g>
<g fill="#000">
<text x="955.8" y="1294.5" font-family="'Liberation Sans', Arial, sans-serif" font-size="55" font-style="italic">u</text>
<text x="987.1" y="1308.5" font-family="'Liberation Sans', Arial, sans-serif" font-size="34">CH2D</text>
<text x="1092.8" y="1295" font-family="'Liberation Sans', Arial, sans-serif" font-size="57.5">(</text>
<text transform="translate(1110.9,1295.3) scale(0.883,1)" font-family="'Liberation Sans', Arial, sans-serif" font-size="55">k</text>
<text transform="translate(1137.1,1295.3) scale(1.178,1)" font-family="'Liberation Sans', Arial, sans-serif" font-size="50.5">m</text>
<text transform="translate(1201.4,1295.3) scale(0.929,1)" font-family="'Liberation Sans', Arial, sans-serif" font-size="50.5">s</text>
<text x="1229.4" y="1278.4" font-family="'Liberation Sans', Arial, sans-serif" font-size="30">-</text>
<text x="1241" y="1278.4" font-family="'Liberation Sans', Arial, sans-serif" font-size="30">1</text>
<text x="1263.2" y="1295" font-family="'Liberation Sans', Arial, sans-serif" font-size="57.5">)</text>
</g>
</svg></body></html>
